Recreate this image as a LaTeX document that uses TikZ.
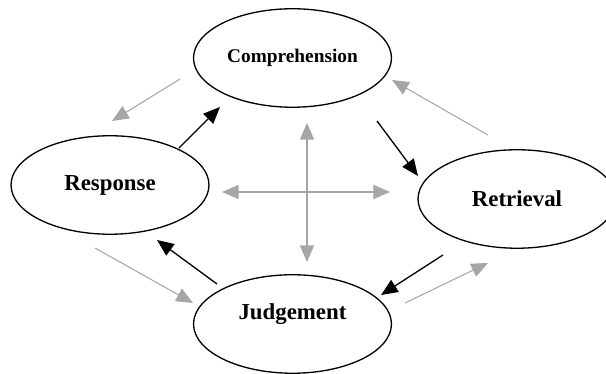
\documentclass[tikz,border=0pt]{standalone}
\usepackage{fontspec}
\setmainfont{Liberation Serif}
\usetikzlibrary{arrows.meta,shapes.geometric}
\begin{document}
\begin{tikzpicture}[x=0.02cm,y=-0.02cm,
	stage/.style={ellipse,draw=black,line width=0.75pt,inner sep=0pt,minimum width=3.96cm,minimum height=1.97cm,font=\fontsize{13}{15}\selectfont\bfseries},
	blackarr/.style={-{Triangle[length=9.5pt,width=8pt]},line width=0.75pt,draw=black},
	grayarr/.style={-{Triangle[length=9.5pt,width=8pt]},line width=0.6pt,draw=lightgr,color=lightgr},
	crossarr/.style={{Triangle[length=9.5pt,width=8pt]}-{Triangle[length=9.5pt,width=8pt]},line width=0.9pt,draw=lightgr,color=lightgr}]
	\definecolor{lightgr}{RGB}{166,166,166}
	\useasboundingbox (0,0) rectangle (606,374);
	% the four stages
	\node[stage,font=\fontsize{11}{13}\selectfont\bfseries] (comp) at (292.5,58) {Comprehension};
	\node[stage] (resp) at (110,185) {Response};
	\node[stage] (retr) at (517,199) {Retrieval};
	\node[stage,text depth=14pt] (judge) at (292.5,324) {Judgement};
	% arrow ends
	\coordinate (rc1) at (179,148); \coordinate (rc2) at (220,107);
	\coordinate (ct1) at (377,121); \coordinate (ct2) at (418,176);
	\coordinate (tj1) at (443,255); \coordinate (tj2) at (381,295);
	\coordinate (jr1) at (217,284); \coordinate (jr2) at (157,240);
	\coordinate (cr1) at (180,79);  \coordinate (cr2) at (112,121);
	\coordinate (tc1) at (488,135); \coordinate (tc2) at (392,80);
	\coordinate (rj1) at (95,248);  \coordinate (rj2) at (193,303);
	\coordinate (jt1) at (405,303); \coordinate (jt2) at (488,263);
	\coordinate (up) at (307,123);  \coordinate (down) at (307,262);
	\coordinate (left) at (222,192); \coordinate (right) at (390,192);
	% clockwise
	\draw[blackarr] (rc1) -- (rc2);
	\draw[blackarr] (ct1) -- (ct2);
	\draw[blackarr] (tj1) -- (tj2);
	\draw[blackarr] (jr1) -- (jr2);
	% counter clockwise
	\draw[grayarr] (cr1) -- (cr2);
	\draw[grayarr] (tc1) -- (tc2);
	\draw[grayarr] (rj1) -- (rj2);
	\draw[grayarr] (jt1) -- (jt2);
	% cross in the middle
	\draw[crossarr] (up) -- (down);
	\draw[crossarr] (left) -- (right);
\end{tikzpicture}
\end{document}
